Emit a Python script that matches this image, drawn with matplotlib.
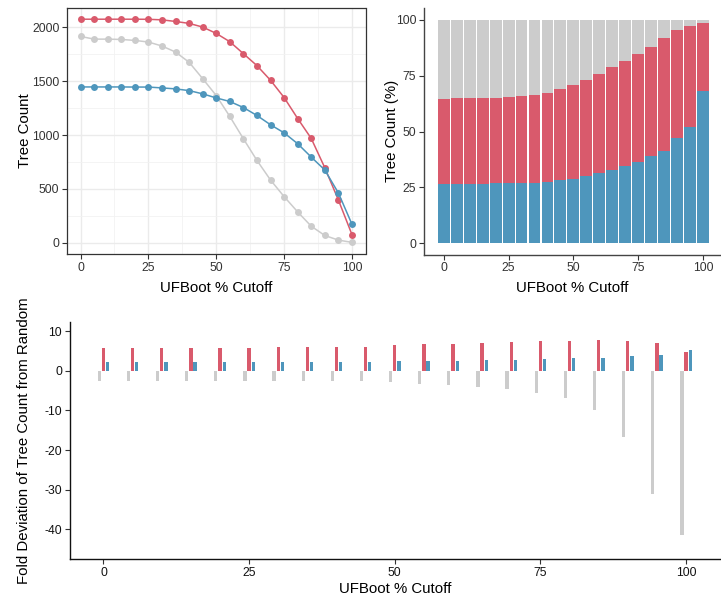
import numpy as np
import matplotlib.pyplot as plt
from matplotlib.ticker import MultipleLocator

plt.rcParams['font.family'] = ['Liberation Sans', 'DejaVu Sans']
plt.rcParams['axes.unicode_minus'] = False

# colours
RED = '#D95A6C'
BLUE = '#4E96BC'
GREY = '#CCCCCC'
TXT = '#333333'

# UFBoot cutoffs
cutoff = [0, 5, 10, 15, 20, 25, 30, 35, 40, 45, 50,
          55, 60, 65, 70, 75, 80, 85, 90, 95, 100]

# tree counts per category
count_red = [2076, 2076, 2076, 2076, 2076, 2075, 2070, 2055, 2037, 2003, 1944,
             1867, 1756, 1645, 1509, 1349, 1154, 969, 697, 398, 77]
count_grey = [1916, 1891, 1891, 1888, 1879, 1864, 1827, 1771, 1676, 1524, 1367,
              1173, 966, 765, 583, 429, 287, 154, 68, 25, 4]
count_blue = [1447, 1447, 1447, 1447, 1446, 1446, 1438, 1429, 1413, 1383, 1345,
              1312, 1256, 1182, 1096, 1021, 920, 796, 676, 463, 173]

# fold deviation from random
fold_grey = [-2.5, -2.5, -2.5, -2.5, -2.5, -2.5, -2.5, -2.55, -2.6, -2.7, -2.95,
             -3.3, -3.5, -4.0, -4.6, -5.5, -6.8, -10.0, -16.8, -31.1, -41.4]
fold_red = [5.8, 5.8, 5.8, 5.8, 5.8, 5.8, 5.9, 5.9, 5.95, 6.05, 6.4,
            6.65, 6.8, 7.1, 7.25, 7.4, 7.5, 7.7, 7.4, 6.9, 4.7]
fold_blue = [2.15, 2.15, 2.15, 2.15, 2.15, 2.15, 2.15, 2.15, 2.2, 2.25, 2.35,
             2.4, 2.5, 2.6, 2.8, 2.9, 3.1, 3.3, 3.6, 4.0, 5.2]

x = np.array(cutoff)
cr = np.array(count_red)
cg = np.array(count_grey)
cb = np.array(count_blue)
total = cr + cg + cb
pb = cb / total * 100
pr = cr / total * 100
pg = cg / total * 100

fig = plt.figure(figsize=(7.21, 5.97), dpi=100)
W, H = 721, 597


def box(l, t, r, b):
    return [l / W, 1 - b / H, (r - l) / W, (b - t) / H]


def style_ticks(ax):
    ax.tick_params(axis='both', direction='out', length=3.5, width=0.8,
                   color='#333333', labelsize=8.7, labelcolor=TXT, pad=2)


# ---- top left: line chart (theme_bw look)
ax1 = fig.add_axes(box(67, 8, 365.5, 254))
ax1.set_axisbelow(True)
ax1.xaxis.set_major_locator(MultipleLocator(25))
ax1.xaxis.set_minor_locator(MultipleLocator(12.5))
ax1.yaxis.set_major_locator(MultipleLocator(500))
ax1.yaxis.set_minor_locator(MultipleLocator(250))
ax1.grid(which='major', color='#EBEBEB', lw=1.0)
ax1.grid(which='minor', color='#F2F2F2', lw=0.6)
ax1.tick_params(which='minor', length=0)
for s in ax1.spines.values():
    s.set_color('#333333')
    s.set_linewidth(0.9)
for yv, c in [(cg, GREY), (cr, RED), (cb, BLUE)]:
    ax1.plot(x, yv, '-o', color=c, lw=1.1, ms=5, mew=0)
ax1.set_xlim(-5, 105)
ax1.set_ylim(-104, 2180)
style_ticks(ax1)
ax1.set_xlabel('UFBoot % Cutoff', fontsize=10.8, labelpad=5)
ax1.set_ylabel('Tree Count', fontsize=10.8, labelpad=-0.3)

# ---- top right: stacked percentage bars (theme_classic look)
ax2 = fig.add_axes(box(424, 8, 721, 254.5))
ax2.bar(x, pb, width=4.6, color=BLUE)
ax2.bar(x, pr, width=4.6, bottom=pb, color=RED)
ax2.bar(x, pg, width=4.6, bottom=pb + pr, color=GREY)
ax2.set_xlim(-7.6, 106.9)
ax2.set_ylim(-5, 105.3)
ax2.xaxis.set_major_locator(MultipleLocator(25))
ax2.yaxis.set_major_locator(MultipleLocator(25))
for s in ['top', 'right']:
    ax2.spines[s].set_visible(False)
for s in ['left', 'bottom']:
    ax2.spines[s].set_color('#444444')
    ax2.spines[s].set_linewidth(1.0)
style_ticks(ax2)
ax2.set_xlabel('UFBoot % Cutoff', fontsize=10.8, labelpad=5)
ax2.set_ylabel('Tree Count (%)', fontsize=10.8, labelpad=-2.5)

# ---- bottom: fold deviation bars
ax3 = fig.add_axes(box(69.7, 321.7, 721, 559.3))
off = 0.72
bw = 0.57
ax3.bar(x - off, fold_grey, width=bw, color=GREY)
ax3.bar(x, fold_red, width=bw, color=RED)
ax3.bar(x + off, fold_blue, width=bw, color=BLUE)
ax3.set_xlim(-5.8, 106)
ax3.set_ylim(-47.55, 12.35)
ax3.xaxis.set_major_locator(MultipleLocator(25))
ax3.set_yticks([10, 0, -10, -20, -30, -40])
for s in ['top', 'right']:
    ax3.spines[s].set_visible(False)
for s in ['left', 'bottom']:
    ax3.spines[s].set_color('#111111')
    ax3.spines[s].set_linewidth(1.0)
style_ticks(ax3)
ax3.tick_params(labelcolor='#111111')
ax3.set_xlabel('UFBoot % Cutoff', fontsize=10.8, labelpad=2)
ax3.set_ylabel('Fold Deviation of Tree Count from Random', fontsize=10.8, labelpad=9.4)

fig.savefig('out.png', dpi=100)
